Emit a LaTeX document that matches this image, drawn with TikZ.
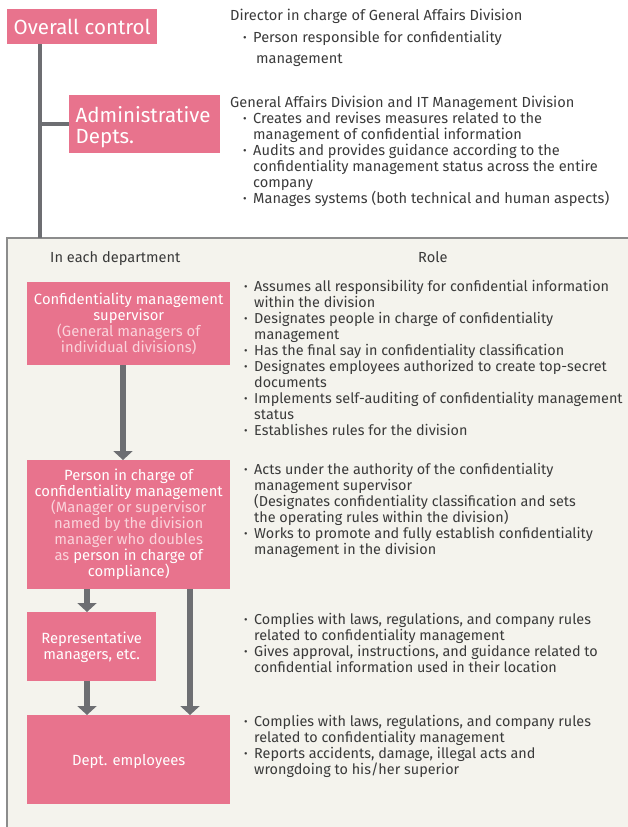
\documentclass[tikz,border=0pt]{standalone}
\usepackage{fontspec}
\setmainfont{Fira Sans}
\usetikzlibrary{arrows.meta}
\definecolor{boxpink}{HTML}{E8738D}
\definecolor{palepink}{HTML}{FAD3DB}
\definecolor{panelbg}{HTML}{F4F3ED}
\definecolor{panelline}{HTML}{8C8C8C}
\definecolor{linegray}{HTML}{6D6E72}
\definecolor{bodytext}{HTML}{3A3A3A}
\newcommand\bul{\makebox[10pt][l]{\raisebox{0.6pt}{\scalebox{0.75}{\textbullet}}}}
\newcommand\ind{\hspace*{10pt}}
\newcommand\pale[1]{\textcolor{palepink}{#1}}
% fixed first-line height, so that a node placed at (x, baseline-12) has its first baseline at y
\newcommand\topline{\rule{0pt}{12pt}}
\tikzset{
  pinkbox/.style={fill=boxpink, inner sep=0pt, anchor=north west, align=center,
    text=white, font=\fontsize{14.8}{16}\selectfont},
  bigbox/.style={pinkbox, font=\fontsize{20.5}{21.5}\selectfont},
  roletext/.style={anchor=north west, inner sep=0pt, align=left, text=bodytext,
    font=\fontsize{14.6}{16}\selectfont},
  deptrole/.style={roletext, font=\fontsize{14.4}{16}\selectfont},
  flowarrow/.style={draw=linegray, line width=6.5pt,
    -{Triangle[width=19pt,length=9pt]}},
  trunk/.style={draw=linegray, line width=4pt},
}
\begin{document}
\begin{tikzpicture}[x=1pt,y=-1pt]
\useasboundingbox (0,0) rectangle (627,827);

% department panel
\node[fill=panelbg, inner sep=0pt, anchor=north west, minimum width=640pt,
  minimum height=600pt] (panel) at (7,238) {};
\draw[panelline, line width=1.5pt] (panel.north east) -- (panel.north west) -- (panel.south west);

% company-wide roles
\node[bigbox, minimum width=150pt, minimum height=35pt] (overall) at (7,9) {Overall control};
\node[bigbox, minimum width=151pt, minimum height=58pt, align=left, text width=138pt]
  (admin) at (69,95) {\rule{0pt}{22pt}Administrative\\Depts.};

\coordinate (trunktop) at ([xshift=33pt]overall.south west);
\draw[trunk] (trunktop) -- (trunktop |- panel.north);
\draw[trunk] (trunktop |- admin.west) -- (admin.west);

\node[roletext, font=\fontsize{14.6}{21.5}\selectfont] (dirtext) at (230,8.5)
  {\topline Director in charge of General Affairs Division\\
   \hspace*{13pt}\bul Person responsible for confidentiality\\
   \hspace*{26pt}management};

\node[roletext] (gatext) at (230,95)
  {\topline General Affairs Division and IT Management Division\\
   \hspace*{13pt}\bul Creates and revises measures related to the\\
   \hspace*{13pt}\ind management of confidential information\\
   \hspace*{13pt}\bul Audits and provides guidance according to the\\
   \hspace*{13pt}\ind confidentiality management status across the entire\\
   \hspace*{13pt}\ind company\\
   \hspace*{13pt}\bul Manages systems (both technical and human aspects)};

% column headings
\node[roletext] (colhead) at (50,250) {\topline In each department};
\node[roletext] (rolehead) at (418,250) {\topline Role};

% department hierarchy
\node[pinkbox, minimum width=203pt, minimum height=83pt] (sup) at (27,282)
  {Confidentiality management\\supervisor\\\pale{(General managers of}\\\pale{individual divisions)}};
\node[pinkbox, minimum width=203pt, minimum height=129pt] (pic) at (27,460)
  {Person in charge of\\confidentiality management\\\pale{(Manager or supervisor}\\
   \pale{named by the division}\\\pale{manager who doubles}\\\pale{as} person in charge of\\compliance)};
\node[pinkbox, minimum width=129pt, minimum height=69pt] (rep) at (27,612)
  {\rule{0pt}{13pt}Representative\\managers, etc.};
\node[pinkbox, minimum width=203pt, minimum height=89pt] (emp) at (27,715)
  {\rule{0pt}{15pt}Dept. employees};

\draw[flowarrow] ([xshift=96pt]sup.south west) -- ([xshift=96pt]pic.north west);
\draw[flowarrow] ([xshift=60pt]pic.south west) -- ([xshift=60pt]rep.north west);
\draw[flowarrow] ([xshift=60pt]rep.south west) -- ([xshift=60pt]emp.north west);
\draw[flowarrow] ([xshift=163pt]pic.south west) -- ([xshift=163pt]emp.north west);

% role descriptions
\node[deptrole] (suprole) at (244,279)
  {\topline\bul Assumes all responsibility for confidential information\\
   \ind within the division\\
   \bul Designates people in charge of confidentiality\\
   \ind management\\
   \bul Has the final say in confidentiality classification\\
   \bul Designates employees authorized to create top-secret\\
   \ind documents\\
   \bul Implements self-auditing of confidentiality management\\
   \ind status\\
   \bul Establishes rules for the division};
\node[deptrole] (picrole) at (244,462)
  {\topline\bul Acts under the authority of the confidentiality\\
   \ind management supervisor\\
   \ind (Designates confidentiality classification and sets\\
   \ind the operating rules within the division)\\
   \bul Works to promote and fully establish confidentiality\\
   \ind management in the division};
\node[deptrole] (reprole) at (244,612)
  {\topline\bul Complies with laws, regulations, and company rules\\
   \ind related to confidentiality management\\
   \bul Gives approval, instructions, and guidance related to\\
   \ind confidential information used in their location};
\node[deptrole] (emprole) at (244,714)
  {\topline\bul Complies with laws, regulations, and company rules\\
   \ind related to confidentiality management\\
   \bul Reports accidents, damage, illegal acts and\\
   \ind wrongdoing to his/her superior};
\end{tikzpicture}
\end{document}
